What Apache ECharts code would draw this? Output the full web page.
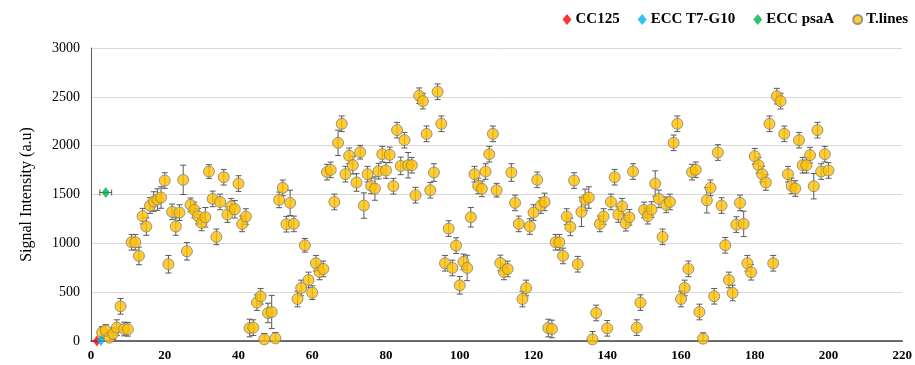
<!DOCTYPE html>
<html><head><meta charset="utf-8">
<script src="https://cdn.jsdelivr.net/npm/echarts@6/dist/echarts.min.js"></script>
<style>html,body{margin:0;padding:0;background:#fff}#c{width:915px;height:365px}</style>
</head><body><div id="c"></div>
<script>
// ---- data ----
const tlStartX = 3; // first T.lines sample number
const tlValues = [
  89,109,34,75,137,355,123,120,1011,1011,
  871,1278,1172,1387,1428,1448,1469,1643,786,1322,
  1172,1315,1650,919,1394,1342,1278,1209,1267,1735,
  1455,1066,1424,1677,1295,1380,1349,1612,1199,1274,
  133,137,393,458,17,287,297,27,1445,1568,
  1196,1414,1199,430,543,980,625,495,796,707,
  738,1729,1752,1424,2029,2224,1708,1896,1800,1623,
  1933,1387,1708,1588,1561,1739,1913,1746,1906,1585,
  2159,1793,2056,1800,1800,1493,2511,2456,2121,1544,
  1725,2552,2224,796,1151,748,977,570,810,748,
  1267,1708,1588,1558,1735,1913,2121,1544,799,707,
  738,1725,1414,1199,430,543,1172,1315,1650,1387,
  1424,133,123,1011,1011,871,1274,1168,1643,786,
  1322,1445,1469,17,287,1199,1274,130,1424,1677,
  1295,1380,1206,1267,1735,137,393,1342,1278,1346,
  1612,1455,1066,1394,1424,2029,2224,430,543,738,
  1729,1753,297,24,1441,1568,458,1930,1387,980,
  625,492,1192,1414,1199,796,704,1892,1800,1708,
  1623,2224,796,2507,2456,2121,1708,1588,1561,2056,
  1800,1800,1903,1585,2159,1735,1913,1746
];
const tlErrors = [
  60,60,50,60,80,80,70,70,80,80,
  90,80,90,80,100,110,110,80,90,80,
  90,80,150,90,70,80,80,80,100,70,
  80,80,80,80,80,80,90,80,80,80,
  90,80,80,80,60,100,170,60,80,80,
  80,130,80,80,80,70,80,70,80,80,
  80,80,80,80,130,80,80,80,90,90,
  70,130,80,80,120,80,80,80,80,80,
  80,90,80,130,80,80,80,80,80,80,
  90,80,80,80,80,80,80,90,80,130,
  100,80,80,80,80,80,80,70,80,80,
  80,90,80,80,80,80,80,80,80,80,
  90,90,90,80,80,80,80,90,80,80,
  150,110,110,80,80,80,80,80,80,80,
  80,80,80,80,80,80,80,80,80,80,
  130,90,80,80,80,80,80,80,80,80,
  80,80,80,60,130,80,80,80,80,80,
  80,80,80,80,130,80,80,80,80,80,
  80,80,80,80,80,80,80,80,80,80,
  80,80,80,130,80,80,80,80
];
const cc125 = [[1.6, 0]];
const eccT7G10 = [[2.7, 5]];
const eccPsaA = [[4.0, 1520]];
const eccPsaAXErr = [1.6];
const legendNames = ['CC125', 'ECC T7-G10', 'ECC psaA', 'T.lines'];
const xMin = 0, xMax = 220, xStep = 20;
const yMin = 0, yMax = 3000, yStep = 500;

// ---- build series data ----
const tlData = tlValues.map((v, i) => [tlStartX + i, v]);
const tlErrData = tlValues.map((v, i) => [tlStartX + i, v, tlErrors[i]]);
const psaErrData = eccPsaA.map((p, i) => [p[0], p[1], eccPsaAXErr[i]]);

const serif = '"Liberation Serif","Times New Roman",serif';
const errColor = '#595959';

function vErr(params, api) {
  const x = api.value(0), y = api.value(1), e = api.value(2);
  const t = api.coord([x, y + e]), b = api.coord([x, y - e]);
  const w = 3, st = {stroke: errColor, lineWidth: 1};
  return {type: 'group', children: [
    {type: 'line', shape: {x1: t[0], y1: t[1], x2: b[0], y2: b[1]}, style: st},
    {type: 'line', shape: {x1: t[0] - w, y1: t[1], x2: t[0] + w, y2: t[1]}, style: st},
    {type: 'line', shape: {x1: b[0] - w, y1: b[1], x2: b[0] + w, y2: b[1]}, style: st}
  ]};
}
function hErr(params, api) {
  const x = api.value(0), y = api.value(1), e = api.value(2);
  const l = api.coord([x - e, y]), r = api.coord([x + e, y]);
  const h = 3, st = {stroke: errColor, lineWidth: 1};
  return {type: 'group', children: [
    {type: 'line', shape: {x1: l[0], y1: l[1], x2: r[0], y2: r[1]}, style: st},
    {type: 'line', shape: {x1: l[0], y1: l[1] - h, x2: l[0], y2: l[1] + h}, style: st},
    {type: 'line', shape: {x1: r[0], y1: r[1] - h, x2: r[0], y2: r[1] + h}, style: st}
  ]};
}

const chart = echarts.init(document.getElementById('c'), null, {renderer: 'canvas'});
chart.setOption({
  animation: false,
  backgroundColor: '#fff',
  grid: {left: 91, right: 11, top: 48, bottom: 24, containLabel: false},
  legend: {
    data: [
      {name: legendNames[0], icon: 'diamond'},
      {name: legendNames[1], icon: 'diamond'},
      {name: legendNames[2], icon: 'diamond'},
      {name: legendNames[3], icon: 'circle'}
    ],
    right: 2, top: 7, itemWidth: 9, itemHeight: 11, itemGap: 18,
    textStyle: {fontFamily: serif, fontWeight: 'bold', fontSize: 15, color: '#000', padding: [0, 0, 0, -1]}
  },
  xAxis: {
    type: 'value', min: xMin, max: xMax, interval: xStep,
    axisLine: {show: true, lineStyle: {color: '#404040', width: 1.5}},
    axisTick: {show: false},
    splitLine: {show: false},
    axisLabel: {fontFamily: serif, fontWeight: 'bold', fontSize: 13, color: '#000', margin: 8}
  },
  yAxis: {
    type: 'value', min: yMin, max: yMax, interval: yStep,
    name: 'Signal Intensity (a.u)', nameLocation: 'middle', nameGap: 56,
    nameTextStyle: {fontFamily: serif, fontSize: 16, color: '#000'},
    axisLine: {show: true, lineStyle: {color: '#595959', width: 1}},
    axisTick: {show: false},
    splitLine: {show: true, lineStyle: {color: '#d9d9d9', width: 1}},
    axisLabel: {fontFamily: serif, fontSize: 14, color: '#000', margin: 11,
                formatter: v => String(v)}
  },
  series: [
    {type: 'custom', name: 'tlErr', renderItem: vErr, data: tlErrData, z: 1, clip: true, silent: true,
     encode: {x: 0, y: 1}},
    {type: 'custom', name: 'psaErr', renderItem: hErr, data: psaErrData, z: 1, silent: true,
     encode: {x: 0, y: 1}},
    {type: 'scatter', name: legendNames[3], data: tlData, symbol: 'circle', symbolSize: 11, z: 3,
     itemStyle: {color: '#FFC000', borderColor: '#7f7f7f', borderWidth: 1}},
    {type: 'scatter', name: legendNames[0], data: cc125, symbol: 'diamond', symbolSize: [8, 11], z: 4,
     itemStyle: {color: '#FF0000'}},
    {type: 'scatter', name: legendNames[1], data: eccT7G10, symbol: 'diamond', symbolSize: [8, 11], z: 4,
     itemStyle: {color: '#00B0F0'}},
    {type: 'scatter', name: legendNames[2], data: eccPsaA, symbol: 'diamond', symbolSize: [8, 11], z: 4,
     itemStyle: {color: '#00B050'}}
  ]
});
</script></body></html>
